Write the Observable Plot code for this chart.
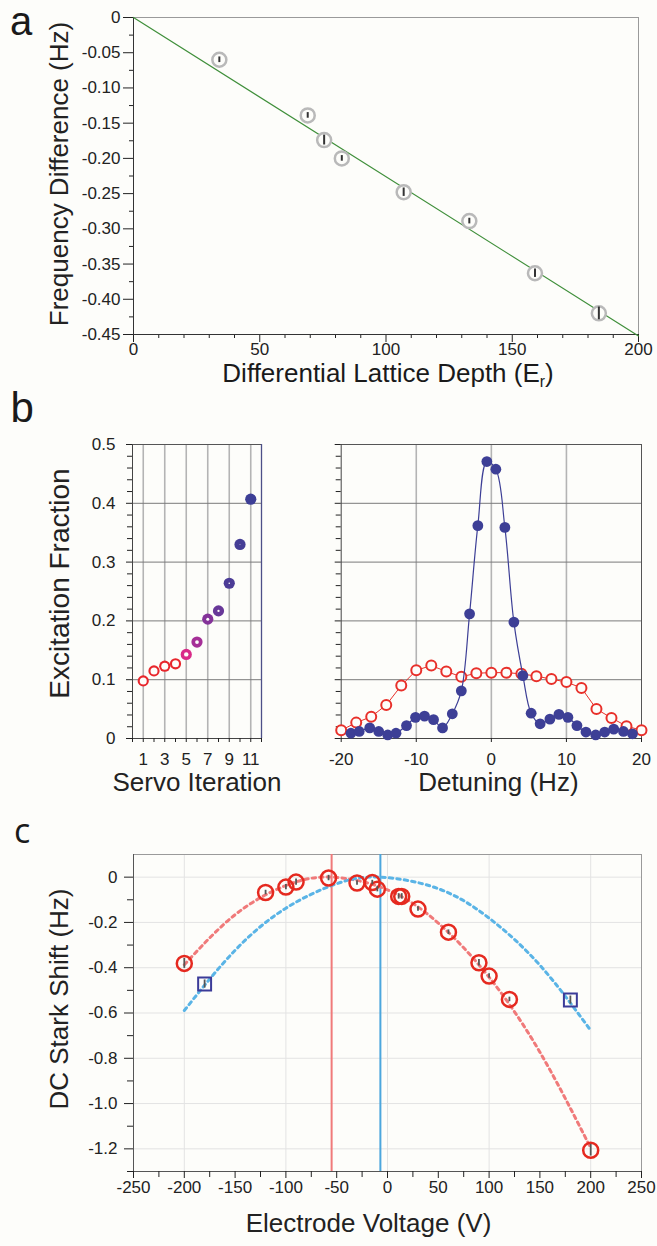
<!DOCTYPE html>
<html><head><meta charset="utf-8">
<script src="https://cdn.jsdelivr.net/npm/d3@7"></script>
<script src="https://cdn.jsdelivr.net/npm/@observablehq/plot@0.6"></script>
<style>
body{margin:0;background:#fdfdfa;}
#wrap{position:relative;width:657px;height:1246px;overflow:hidden;font-family:"Liberation Sans",Arial,Helvetica,sans-serif;color:#1a1a1a;background:#fdfdfa;}
.lab{position:absolute;white-space:nowrap;}
</style></head><body><div id="wrap"></div>
<script>
// ---------- Panel a data ----------
const depthA = [34, 69, 75.5, 82.5, 107, 133, 159, 184.3];
const freqDiffA = [-0.060, -0.139, -0.174, -0.200, -0.248, -0.289, -0.363, -0.420];
const errA = [0.004, 0.004, 0.007, 0.004, 0.006, 0.004, 0.006, 0.009];
const fitDepthA = [0, 200];
const fitFreqA = [0, -0.452];
const aFreqTicks = [0, -0.05, -0.10, -0.15, -0.20, -0.25, -0.30, -0.35, -0.40, -0.45];
const aFreqMinor = [-0.025, -0.075, -0.125, -0.175, -0.225, -0.275, -0.325, -0.375, -0.425];
const aDepthTicks = [0, 50, 100, 150, 200];
const aDepthMinor = [10, 20, 30, 40, 60, 70, 80, 90, 110, 120, 130, 140, 160, 170, 180, 190];

// ---------- Panel b data ----------
const servoIter = [1, 2, 3, 4, 5, 6, 7, 8, 9, 10, 11];
const servoFrac = [0.098, 0.115, 0.123, 0.127, 0.143, 0.164, 0.203, 0.217, 0.264, 0.330, 0.407];
const blueDet = [-18.7,-17.6,-16.2,-15.0,-13.8,-12.7,-11.3,-10.1,-8.9,-7.7,-6.5,-5.2,-4.0,-2.9,-1.8,-0.6,0.6,1.8,3.0,4.2,5.3,6.5,7.8,9.0,10.2,11.4,12.6,13.9,15.1,16.3,17.6,18.8];
const blueFrac = [0.009,0.012,0.018,0.012,0.006,0.009,0.022,0.036,0.038,0.032,0.018,0.042,0.081,0.212,0.362,0.471,0.458,0.359,0.198,0.107,0.043,0.025,0.033,0.041,0.036,0.022,0.011,0.006,0.011,0.016,0.012,0.008];
const redDet = [-20,-18,-16,-14,-12,-10,-8,-6,-4,-2,0,2,4,6,8,10,12,14,16,18,20];
const redFrac = [0.014,0.027,0.037,0.057,0.090,0.116,0.124,0.114,0.105,0.111,0.112,0.112,0.110,0.106,0.101,0.096,0.086,0.050,0.035,0.021,0.014];
const bFracTicks = [0, 0.1, 0.2, 0.3, 0.4, 0.5];
const bFracMinor = [0.02,0.04,0.06,0.08,0.12,0.14,0.16,0.18,0.22,0.24,0.26,0.28,0.32,0.34,0.36,0.38,0.42,0.44,0.46,0.48];
const bIterTicks = [1, 3, 5, 7, 9, 11];
const bIterMinor = [0, 2, 4, 6, 8, 10, 12];
const bDetTicks = [-20, -10, 0, 10, 20];
const bDetGrid = [-10, 0, 10];

// ---------- Panel c data ----------
const cVolt = [-200, -120, -100, -90, -58, -30, -15, -10, 11, 14, 30, 60, 90, 100, 120, 200];
const cShift = [-0.381, -0.068, -0.044, -0.022, -0.004, -0.026, -0.024, -0.053, -0.085, -0.085, -0.141, -0.243, -0.378, -0.437, -0.540, -1.206];
const cErr = [0.022, 0.010, 0.012, 0.014, 0.012, 0.010, 0.010, 0.012, 0.012, 0.012, 0.010, 0.010, 0.014, 0.010, 0.010, 0.026];
const sqVolt = [-180, 180];
const sqShift = [-0.472, -0.543];
const sqErr = [0.018, 0.018];
const redFitVolt = [-200, -150, -100, -55, 0, 50, 100, 150, 200];
const redFitShift = [-0.387, -0.166, -0.037, 0, -0.056, -0.203, -0.442, -0.773, -1.196];
const blueFitVolt = [-200, -150, -100, -50, -7, 50, 100, 150, 200];
const blueFitShift = [-0.589, -0.323, -0.137, -0.029, 0, -0.051, -0.181, -0.389, -0.677];
const redZeroVolt = [-55];
const blueZeroVolt = [-7];
const cVoltTicks = [-250, -200, -150, -100, -50, 0, 50, 100, 150, 200, 250];
const cVoltMinor = [-225, -175, -125, -75, -25, 25, 75, 125, 175, 225];
const cVoltGrid = [-200, -100, 0, 100, 200];
const cShiftTicks = [0, -0.2, -0.4, -0.6, -0.8, -1.0, -1.2];
const cShiftMinor = [-0.1, -0.3, -0.5, -0.7, -0.9, -1.1, -1.3];

// ---------- helpers ----------
const FONT = '"Liberation Sans", Arial, Helvetica, sans-serif';
const wrap = document.getElementById("wrap");
function place(el, left, top) {
  el.style.position = "absolute";
  el.style.left = left + "px";
  el.style.top = top + "px";
  wrap.appendChild(el);
}
function label(html, left, top, css) {
  const d = document.createElement("div");
  d.className = "lab";
  d.innerHTML = html;
  d.style.left = left + "px";
  d.style.top = top + "px";
  Object.assign(d.style, css || {});
  wrap.appendChild(d);
}
const styleBase = {fontFamily: FONT, fontSize: "17px", background: "transparent", color: "#222", overflow: "visible"};
const blank = () => "";
const yTitle = (t, dx, dy, fs) => Plot.text([t], {frameAnchor: "left", dx, dy, rotate: -90, fontSize: fs, textAnchor: "middle", lineAnchor: "middle"});
const xTitle = (t, dx, dy, fs) => Plot.text([t], {frameAnchor: "bottom", dx, dy, fontSize: fs, textAnchor: "middle", lineAnchor: "middle"});

// ---------- Panel a ----------
const ptsA = depthA.map((x, i) => ({x, y: freqDiffA[i], e: errA[i]}));
const fitA = fitDepthA.map((x, i) => ({x, y: fitFreqA[i]}));
const A = Plot.plot({
  width: 657, height: 400,
  marginLeft: 133, marginRight: 19, marginTop: 17, marginBottom: 66,
  x: {domain: [0, 200], label: null},
  y: {domain: [-0.45, 0], label: null},
  style: styleBase,
  marks: [
    Plot.ruleY([0], {stroke: "#9a9a9a"}),
    Plot.ruleX([200], {stroke: "#9a9a9a"}),
    Plot.axisY({ticks: aFreqMinor, tickSize: 4, tickFormat: blank, label: null}),
    Plot.axisY({ticks: aFreqTicks, tickSize: 10, tickPadding: 3, tickFormat: d => d === 0 ? "0" : d.toFixed(2), label: null}),
    Plot.axisX({ticks: aDepthMinor, tickSize: 4, tickFormat: blank, label: null}),
    Plot.axisX({ticks: aDepthTicks, tickSize: 8, tickPadding: 0, tickFormat: d => String(d), label: null}),
    Plot.ruleX([0], {stroke: "#333"}),
    Plot.ruleY([-0.45], {stroke: "#333"}),
    Plot.line(fitA, {x: "x", y: "y", stroke: "#3f8f3a", strokeWidth: 1.2}),
    Plot.dot(ptsA, {x: "x", y: "y", r: 7, stroke: "#b9b9b9", strokeWidth: 2.5, fill: "#fdfdfa"}),
    Plot.ruleX(ptsA, {x: "x", y1: d => d.y - d.e, y2: d => d.y + d.e, stroke: "#333", strokeWidth: 2}),
    yTitle("Frequency Difference (Hz)", 58.7 - 133, -2, 26)
  ]
});
place(A, 0, 0);
label('Differential Lattice Depth (E<sub style="font-size:60%;vertical-align:-0.3em">r</sub>)', 138, 360,
  {width: "500px", textAlign: "center", fontSize: "26px", lineHeight: "26px"});

// ---------- Panel b ----------
const servo = servoIter.map((x, i) => ({x, y: servoFrac[i]}));
const servoColor = d3.scaleLinear().domain([1, 4, 5, 6, 7, 9, 11])
  .range(["#e8262c", "#e8262c", "#d92a88", "#a52f97", "#843399", "#4c3c96", "#3d3f96"]);
const hole = i => i <= 4 ? 3.5 : Math.max(0, 2.2 - 0.35 * (i - 5));
const B1 = Plot.plot({
  width: 290, height: 390,
  marginLeft: 132, marginRight: 29, marginTop: 24, marginBottom: 72,
  x: {domain: [0, 12], label: null},
  y: {domain: [0, 0.5], label: null},
  r: {type: "identity"},
  color: {type: "identity"},
  style: styleBase,
  marks: [
    Plot.gridX({ticks: bIterTicks, stroke: "#b4b4b4", strokeOpacity: 1, strokeWidth: 1.6}),
    Plot.gridY({ticks: bFracTicks, stroke: "#7a7a7a", strokeOpacity: 1}),
    Plot.ruleY([0.5], {stroke: "#555"}),
    Plot.ruleX([12], {stroke: "#4d5088", strokeWidth: 1.3}),
    Plot.ruleX([0], {stroke: "#444"}),
    Plot.ruleY([0], {stroke: "#444"}),
    Plot.axisY({ticks: bFracMinor, tickSize: 5, tickFormat: blank, label: null}),
    Plot.axisY({ticks: bFracTicks, tickSize: 6, tickPadding: 11, tickFormat: d => d === 0 ? "0" : d.toFixed(1), label: null}),
    Plot.axisX({ticks: bIterMinor, tickSize: 4, tickFormat: blank, label: null}),
    Plot.axisX({ticks: bIterTicks, tickSize: 4, tickPadding: 10, tickFormat: d => String(d), label: null}),
    Plot.dot(servo, {x: "x", y: "y", r: 5.6, fill: d => servoColor(d.x)}),
    Plot.dot(servo.filter(d => hole(d.x) > 0.2), {x: "x", y: "y", r: d => hole(d.x), fill: "#fdfdfa"}),
    yTitle("Excitation Fraction", 59.4 - 132, -8, 28),
    xTitle("Servo Iteration", 0, 44, 26)
  ]
});
place(B1, 0, 420);

const blue = blueDet.map((x, i) => ({x, y: blueFrac[i]}));
const red = redDet.map((x, i) => ({x, y: redFrac[i]}));
const BLUE = "#3d3f96", RED = "#e8302a";
const B2 = Plot.plot({
  width: 367, height: 390,
  marginLeft: 50.7, marginRight: 16, marginTop: 24, marginBottom: 72,
  x: {domain: [-20, 20], label: null},
  y: {domain: [0, 0.5], label: null},
  style: styleBase,
  marks: [
    Plot.gridX({ticks: bDetGrid, stroke: "#b4b4b4", strokeOpacity: 1, strokeWidth: 1.6}),
    Plot.gridY({ticks: bFracTicks, stroke: "#7a7a7a", strokeOpacity: 1}),
    Plot.ruleY([0.5], {stroke: "#555"}),
    Plot.ruleX([20], {stroke: "#555"}),
    Plot.ruleX([-20], {stroke: "#444"}),
    Plot.ruleY([0], {stroke: "#444"}),
    Plot.axisY({ticks: bFracMinor, tickSize: 5, tickFormat: blank, label: null}),
    Plot.axisY({ticks: bFracTicks, tickSize: 6, tickFormat: blank, label: null}),
    Plot.axisX({ticks: bDetTicks, tickSize: 4, tickPadding: 10, tickFormat: d => String(d), label: null}),
    Plot.line(red, {x: "x", y: "y", stroke: RED, strokeWidth: 1}),
    Plot.dot(red, {x: "x", y: "y", r: 5, stroke: RED, strokeWidth: 2, fill: "#fdfdfa"}),
    Plot.line(blue, {x: "x", y: "y", stroke: BLUE, strokeWidth: 1.2, curve: "catmull-rom"}),
    Plot.dot(blue, {x: "x", y: "y", r: 5.4, fill: BLUE}),
    xTitle("Detuning (Hz)", 7, 44, 26)
  ]
});
place(B2, 290, 420);

// ---------- Panel c ----------
const circ = cVolt.map((x, i) => ({x, y: cShift[i], e: cErr[i]}));
const sq = sqVolt.map((x, i) => ({x, y: sqShift[i], e: sqErr[i]}));
const redFit = redFitVolt.map((x, i) => ({x, y: redFitShift[i]}));
const blueFit = blueFitVolt.map((x, i) => ({x, y: blueFitShift[i]}));
const C = Plot.plot({
  width: 657, height: 426,
  marginLeft: 133, marginRight: 16, marginTop: 34, marginBottom: 75,
  x: {domain: [-250, 250], label: null},
  y: {domain: [-1.3, 0.1], label: null},
  style: styleBase,
  marks: [
    Plot.gridX({ticks: cVoltGrid, stroke: "#e3e3e3", strokeOpacity: 1}),
    Plot.gridY({ticks: cShiftTicks, stroke: "#e3e3e3", strokeOpacity: 1}),
    Plot.ruleY([0.1], {stroke: "#9a9a9a"}),
    Plot.ruleX([250], {stroke: "#9a9a9a"}),
    Plot.ruleX([-250], {stroke: "#555"}),
    Plot.ruleY([-1.3], {stroke: "#555"}),
    Plot.axisY({ticks: cShiftMinor, tickSize: 6, tickFormat: blank, label: null}),
    Plot.axisY({ticks: cShiftTicks, tickSize: 9, tickPadding: 7, tickFormat: d => d === 0 ? "0" : d.toFixed(1), label: null}),
    Plot.axisX({ticks: cVoltMinor, tickSize: 6, tickFormat: blank, label: null}),
    Plot.axisX({ticks: cVoltTicks, tickSize: 7, tickPadding: 2, tickFormat: d => String(d), label: null}),
    Plot.ruleX(redZeroVolt, {stroke: "#f07a7a", strokeWidth: 2}),
    Plot.ruleX(blueZeroVolt, {stroke: "#4ba6dd", strokeWidth: 2}),
    Plot.line(redFit, {x: "x", y: "y", stroke: "#f07a7a", strokeWidth: 3, strokeDasharray: "3.5,4", curve: "natural"}),
    Plot.line(blueFit, {x: "x", y: "y", stroke: "#5ab4e6", strokeWidth: 3, strokeDasharray: "3.5,4", curve: "natural"}),
    Plot.dot(sq, {x: "x", y: "y", symbol: "square", r: 7.3, stroke: "#3b3b98", strokeWidth: 2, fill: "none"}),
    Plot.ruleX(sq, {x: "x", y1: d => d.y - d.e, y2: d => d.y + d.e, stroke: "#555", strokeWidth: 1.8}),
    Plot.dot(circ, {x: "x", y: "y", r: 7.5, stroke: "#e5291f", strokeWidth: 2.5, fill: "none"}),
    Plot.ruleX(circ, {x: "x", y1: d => d.y - d.e, y2: d => d.y + d.e, stroke: "#555", strokeWidth: 1.8}),
    yTitle("DC Stark Shift (Hz)", 58.7 - 133, -14, 26),
    xTitle("Electrode Voltage (V)", -19, 52.5, 26)
  ]
});
place(C, 0, 820);

// ---------- panel letters ----------
label("a", 10, 1, {fontSize: "40px", lineHeight: "40px"});
label("b", 10.5, 389.5, {fontSize: "42px", lineHeight: "36px"});
label("c", 14, 813.7, {fontSize: "34px", lineHeight: "33px", fontFamily: '"Open Sans", sans-serif'});
</script></body></html>
